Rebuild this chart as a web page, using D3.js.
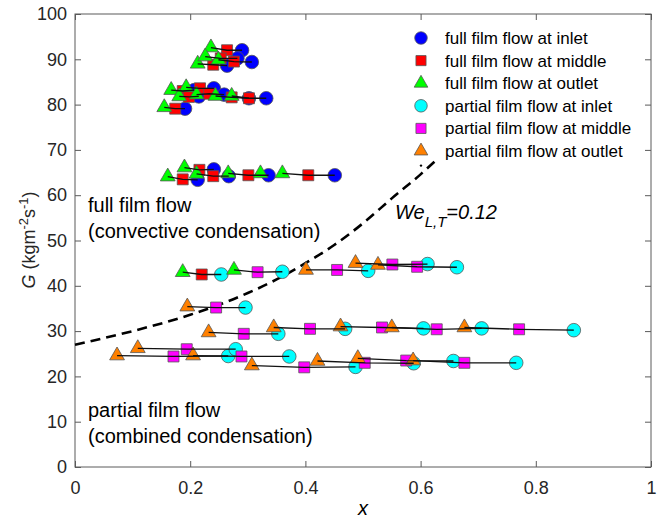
<!DOCTYPE html>
<html><head><meta charset="utf-8">
<script src="https://cdn.jsdelivr.net/npm/d3@7/dist/d3.min.js"></script>
<style>
body{margin:0;background:#fff;}
text{font-family:"Liberation Sans",Arial,sans-serif;}
</style></head>
<body><svg id="c" width="657" height="525"></svg>
<script>
// ---- data: [x, G, run id] ----
const fullInlet = [
 [0.290,92.0,'F1'],[0.264,88.6,'F2'],[0.282,90.2,'F3'],[0.307,89.4,'F4'],
 [0.191,79.1,'F5'],[0.207,83.2,'F6'],[0.241,83.6,'F7'],[0.215,81.8,'F8'],
 [0.259,82.2,'F9'],[0.302,81.4,'F10'],[0.332,81.4,'F11'],
 [0.213,63.4,'F12'],[0.241,65.7,'F13'],[0.267,64.2,'F14'],[0.336,64.4,'F15'],[0.451,64.4,'F17']
];
const fullMiddle = [
 [0.264,92.0,'F1'],[0.240,88.8,'F2'],[0.253,90.2,'F3'],[0.276,89.5,'F4'],
 [0.174,79.1,'F5'],[0.187,83.0,'F6'],[0.217,83.6,'F7'],[0.198,81.7,'F8'],
 [0.233,82.4,'F9'],[0.272,81.6,'F10'],[0.302,81.4,'F11'],
 [0.187,63.5,'F12'],[0.216,65.6,'F13'],[0.240,64.2,'F14'],[0.301,64.4,'F15'],[0.405,64.4,'F17'],
 [0.220,42.5,'M1']
];
const fullOutlet = [
 [0.236,92.6,'F1'],[0.213,89.0,'F2'],[0.226,90.6,'F3'],[0.249,89.9,'F4'],
 [0.155,79.4,'F5'],[0.167,83.2,'F6'],[0.193,83.8,'F7'],[0.181,81.8,'F8'],
 [0.211,82.2,'F9'],[0.244,81.9,'F10'],[0.272,81.9,'F11'],
 [0.161,64.1,'F12'],[0.190,66.1,'F13'],[0.211,64.7,'F14'],[0.266,64.8,'F15'],[0.322,64.8,'F16'],[0.360,64.8,'F17'],
 [0.187,43.0,'M1'],[0.276,43.5,'M2']
];
const partialInlet = [
 [0.254,42.5,'M1'],[0.360,43.1,'M2'],
 [0.509,43.3,'P1'],[0.612,44.8,'P2'],[0.663,44.1,'P3'],[0.296,35.2,'P4'],
 [0.353,29.4,'Q1'],[0.469,30.5,'Q2'],[0.605,30.6,'Q3'],[0.706,30.6,'Q4'],[0.866,30.2,'Q5'],
 [0.266,24.5,'S1'],[0.279,26.0,'S2'],[0.372,24.4,'S3'],[0.487,22.1,'S4'],
 [0.588,22.9,'S5'],[0.657,23.4,'S6'],[0.766,23.0,'S7']
];
const partialMiddle = [
 [0.317,43.0,'M2'],
 [0.455,43.5,'P1'],[0.551,44.7,'P2'],[0.594,44.2,'P3'],[0.245,35.2,'P4'],
 [0.293,29.4,'Q1'],[0.408,30.5,'Q2'],[0.533,30.8,'Q3'],[0.628,30.4,'Q4'],[0.771,30.4,'Q5'],
 [0.171,24.4,'S1'],[0.194,26.0,'S2'],[0.289,24.4,'S3'],[0.398,22.0,'S4'],
 [0.503,23.0,'S5'],[0.575,23.5,'S6'],[0.676,23.0,'S7']
];
const partialOutlet = [
 [0.401,43.5,'P1'],[0.487,45.0,'P2'],[0.526,44.6,'P3'],[0.195,35.4,'P4'],
 [0.232,29.7,'Q1'],[0.345,30.8,'Q2'],[0.461,31.0,'Q3'],[0.550,30.8,'Q4'],[0.676,30.8,'Q5'],
 [0.073,24.6,'S1'],[0.109,26.2,'S2'],[0.205,24.6,'S3'],[0.307,22.4,'S4'],
 [0.421,23.4,'S5'],[0.491,24.0,'S6'],[0.587,23.5,'S7']
];
// transition line We_L,T = 0.12
const weCurve = [[0,27],[0.1,30],[0.2,33.6],[0.3,38.4],[0.35,41.4],[0.4,45],[0.45,49],[0.5,53.8],[0.55,59.3],[0.6,64.6],[0.625,67.5]];
const xTicks = [0,0.2,0.4,0.6,0.8,1];
const yTicks = [0,10,20,30,40,50,60,70,80,90,100];
const legendLabels = ['full film flow at inlet','full film flow at middle','full film flow at outlet',
 'partial film flow at inlet','partial film flow at middle','partial film flow at outlet'];

const series = [
 {data:fullInlet, color:'#0000ff', shape:'circle'},
 {data:fullMiddle, color:'#ff0000', shape:'square'},
 {data:fullOutlet, color:'#00ff00', shape:'triangle'},
 {data:partialInlet, color:'#00ffff', shape:'circle'},
 {data:partialMiddle, color:'#ff00ff', shape:'square'},
 {data:partialOutlet, color:'#ff8000', shape:'triangle'}
];

const svg = d3.select('#c');
const L=75,R=651,T=14,B=467;
const x = d3.scaleLinear([0,1],[L,R]);
const y = d3.scaleLinear([0,100],[B,T]);

const symType = {circle:d3.symbolCircle, square:d3.symbolSquare, triangle:d3.symbolTriangle};
const symSize = {circle:145, square:120, triangle:95};
const sym = (shape,scale=1)=>d3.symbol().type(symType[shape]).size(symSize[shape]*scale)();

// axes box
const axCol = '#5a5a5a';
svg.append('rect').attr('x',L).attr('y',T).attr('width',R-L).attr('height',B-T)
  .attr('fill','none').attr('stroke',axCol).attr('stroke-width',1);

const fmt = d3.format('~g');
const gx = svg.append('g').attr('transform',`translate(0,${B})`)
  .call(d3.axisBottom(x).tickValues(xTicks).tickFormat(fmt).tickSize(-6).tickPadding(14));
const gxt = svg.append('g').attr('transform',`translate(0,${T})`)
  .call(d3.axisTop(x).tickValues(xTicks).tickFormat('').tickSize(-6));
const gy = svg.append('g').attr('transform',`translate(${L},0)`)
  .call(d3.axisLeft(y).tickValues(yTicks).tickFormat(fmt).tickSize(-6).tickPadding(8));
const gyr = svg.append('g').attr('transform',`translate(${R},0)`)
  .call(d3.axisRight(y).tickValues(yTicks).tickFormat('').tickSize(-6));
[gx,gxt,gy,gyr].forEach(g=>{
  g.select('.domain').remove();
  g.selectAll('line').attr('stroke',axCol);
  g.selectAll('text').attr('fill','#262626').style('font-size','18px')
   .style('font-family','"Liberation Sans",Arial,sans-serif');
});
// keep the "1" label inside the page
gx.selectAll('.tick').filter(d=>d===1).select('text').attr('text-anchor','end').attr('dx','5');

// dashed transition curve
svg.append('path').datum(weCurve)
  .attr('d',d3.line().x(d=>x(d[0])).y(d=>y(d[1])).curve(d3.curveMonotoneX))
  .attr('fill','none').attr('stroke','#000').attr('stroke-width',2.6)
  .attr('stroke-dasharray','10,6');

// markers: inlet, middle, outlet order (outlet on top)
const order = [0,3,1,4,2,5];
order.forEach(i=>{
  const s = series[i];
  svg.append('g').selectAll('path').data(s.data).join('path')
    .attr('d',sym(s.shape))
    .attr('transform',d=>`translate(${x(d[0])},${y(d[1])})`)
    .attr('fill',s.color).attr('stroke','#555').attr('stroke-width',0.8);
});

// connecting lines per run
const allPts = series.flatMap(s=>s.data);
const runs = d3.groups(allPts, d=>d[2]);
const lineGen = d3.line().x(d=>x(d[0])).y(d=>y(d[1]));
svg.append('g').selectAll('path').data(runs.filter(r=>r[1].length>1)).join('path')
  .attr('d',r=>lineGen(r[1].slice().sort((a,b)=>a[0]-b[0])))
  .attr('fill','none').attr('stroke','#111').attr('stroke-width',1.3);

// legend
const lg = svg.append('g');
legendLabels.forEach((lab,i)=>{
  const s = series[i];
  const yy = 38 + i*22.6;
  lg.append('path').attr('d',sym(s.shape,0.85)).attr('transform',`translate(421,${yy})`)
    .attr('fill',s.color).attr('stroke','#555').attr('stroke-width',0.8);
  lg.append('text').attr('x',445).attr('y',yy+6).text(lab)
    .style('font-size','17px').attr('fill','#000');
});
lg.append('circle').attr('cx',421).attr('cy',38+6*22.6-8).attr('r',1.2).attr('fill','#000');

// annotations
const ann = (tx,ty,str)=>svg.append('text').attr('x',tx).attr('y',ty).text(str)
  .style('font-size','20px').attr('fill','#000');
ann(88,212,'full film flow');
ann(88,238,'(convective condensation)');
ann(88,417,'partial film flow');
ann(88,443,'(combined condensation)');

const we = svg.append('text').attr('x',395).attr('y',219).style('font-size','20px')
  .style('font-style','italic').attr('fill','#000');
we.append('tspan').text('We');
we.append('tspan').attr('dy',8).style('font-size','15px').text('L,T');
we.append('tspan').attr('dy',-8).text('=0.12');

// axis labels
svg.append('text').attr('x',(L+R)/2).attr('y',515).attr('text-anchor','middle')
  .style('font-size','20px').style('font-style','italic').text('x');
const yl = svg.append('text').attr('transform','translate(35,240) rotate(-90)')
  .attr('text-anchor','middle').style('font-size','18px').attr('fill','#262626');
yl.append('tspan').style('font-style','italic').text('G');
yl.append('tspan').text(' (kgm');
yl.append('tspan').attr('dy',-7).style('font-size','13px').text('-2');
yl.append('tspan').attr('dy',7).text('s');
yl.append('tspan').attr('dy',-7).style('font-size','13px').text('-1');
yl.append('tspan').attr('dy',7).text(')');
</script></body></html>
